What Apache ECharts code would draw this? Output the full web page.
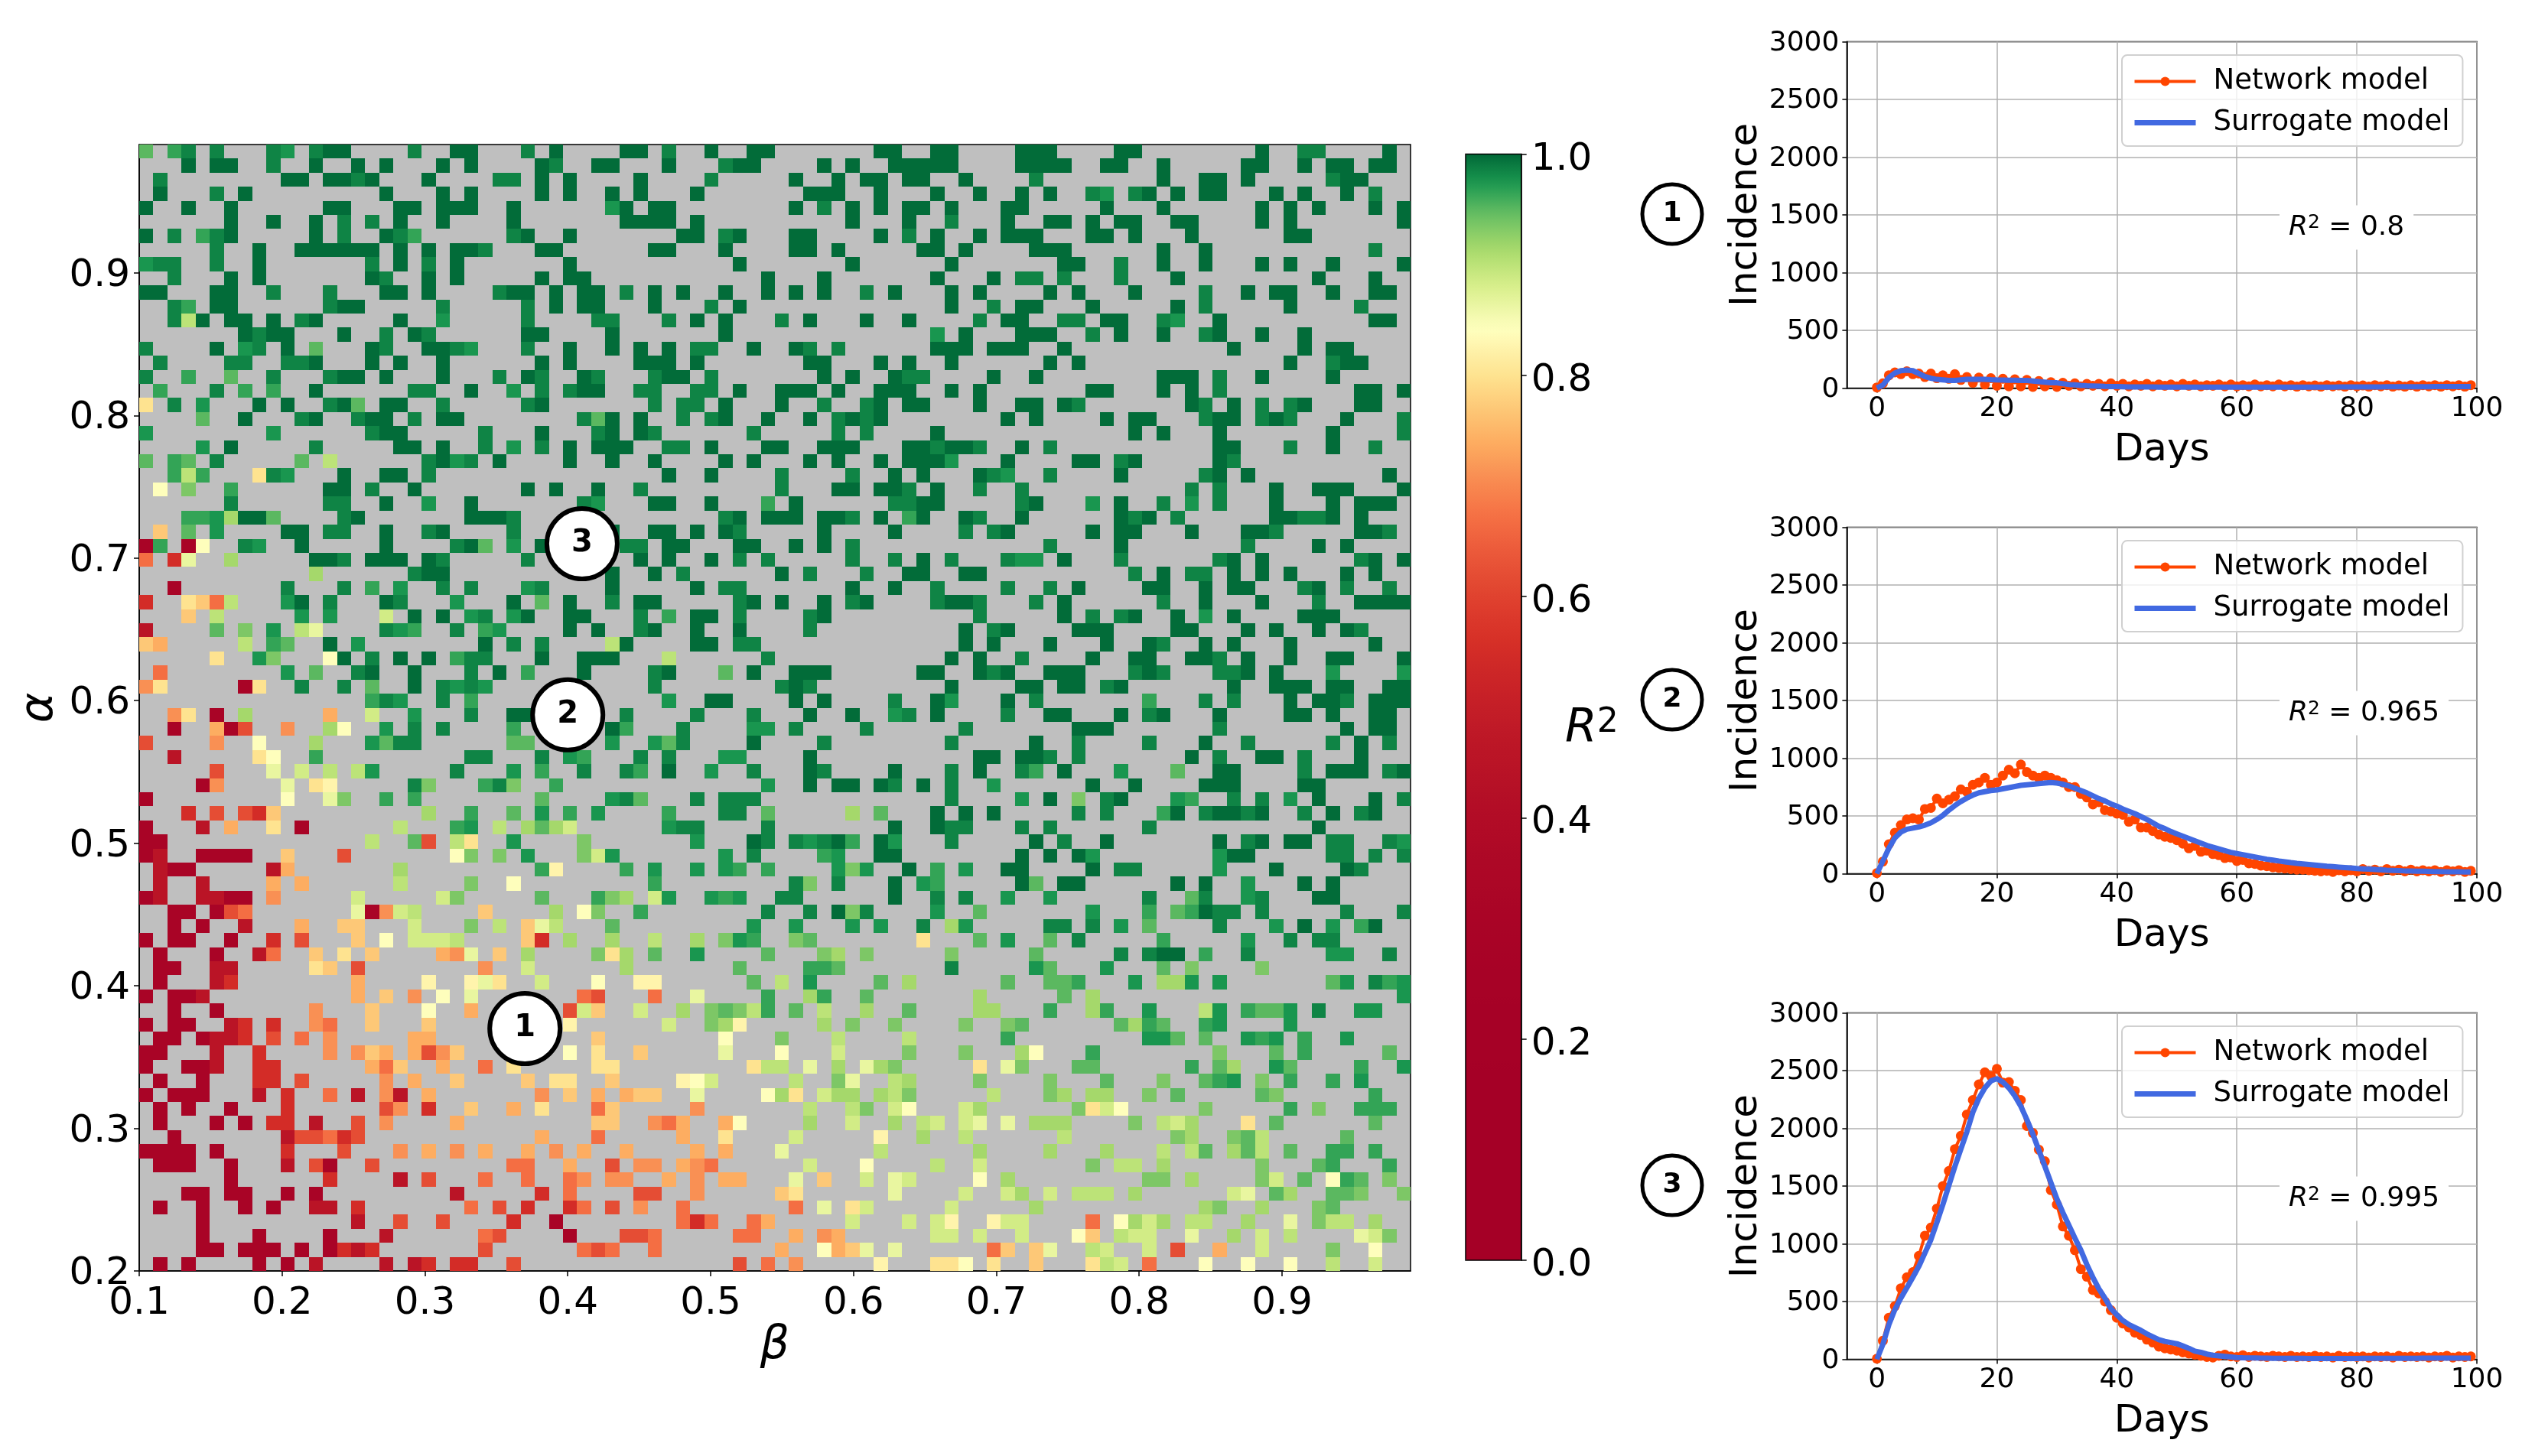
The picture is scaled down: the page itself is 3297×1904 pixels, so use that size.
<!DOCTYPE html>
<html><head><meta charset="utf-8">
<style>html,body{margin:0;padding:0;background:#fff}#c{width:3297px;height:1904px}</style>
<script src="https://cdn.jsdelivr.net/npm/echarts@6/dist/echarts.min.js"></script>
</head><body><div id="c"></div>
<script>
// R2 level letters
const levelValues = {A:.30,B:.45,C:.55,D:.62,E:.67,F:.71,G:.74,H:.77,I:.80,J:.825,K:.84,L:.865,M:.885,N:.90,O:.915,P:.935,Q:.95,R:.965,S:.975,T:.985,U:.998};
// One string per row, top row (alpha high) first; tokens are column or column-range + level
const gridRows = [
"0Q 2R 3T 5T 9T 10S 12T 13-14U 19T 22-23U 27T 29U 34-35U 37T 40U 43-44U 52-53U 56-57U 62-64U 69-70U 79U 82-83T 88U",
"3U 5-6U 9T 12U 15U 17U 21U 23U 28U 29T 32-33U 37U 41T 42-43U 48U 50U 53-57U 62-65U 68-69U 72U 78-79U 82U 84-85U 87-88U",
"1T 10-11U 13-14U 15T 16U 20U 25-26T 28U 30U 35U 40T 46U 49U 51-52U 54-55U 58U 63T 72U 75-76U 78U 84T 85-86U",
"1U 5T 7U 17U 21U 23U 28U 30U 33U 35U 39U 47-49U 52U 56U 59U 62U 64U 67T 68S 70T 71U 73U 75-76U 80U 82U 85U 87T",
"0U 3U 6U 13-14U 18-19U 21-23U 26U 33S 34U 36-37U 46U 48T 50U 52U 54-55U 57U 61-62U 68U 72U 79U 81U 83U 87U 89U",
"6U 9U 12U 14T 16T 18U 21U 26U 34-37U 39U 50U 54U 57T 61U 64-65U 67U 69-70U 73-74U 79U 81U 89U",
"0U 2T 4R 5T 6U 12U 14T 17U 18T 19R 26T 27U 30U 38-39U 41T 42U 46-47U 52U 54T 56U 59U 61-63U 67-68U 70U 74U 81-82U",
"5T 8U 11-16U 18U 20U 22-23U 24T 28-29U 36-37U 41U 46-47U 49U 55-56U 58U 63-65U 72U 75U 87T",
"0S 1-2T 5T 8U 16T 18U 20T 22U 30U 42U 50U 57U 65-66U 69T 72U 75U 79U 81U 84U 89U",
"2T 6U 8U 16U 17T 20U 22U 28U 30-31U 44U 48U 56U 60U 62-63T 65T 69T 73U 83U 87U",
"0-1U 5-6U 9T 13T 17-18U 20U 25T 26-27U 29U 31-32U 34T 36U 38U 41U 44U 46U 48U 51T 53U 57U 59U 64U 66U 70U 75T 78U 80-81U 84U 87-88U",
"2T 3R 5-6U 13T 14-15U 21T 27T 29U 31-32U 36U 40T 42U 57U 60T 62-63U 67U 73U 75T 81U 86T",
"2T 3N 4U 6-7U 9U 11T 12U 18U 21S 27T 32-33T 37T 39U 41U 45T 47U 51U 54U 59T 61-62U 65-66T 68-69U 72T 73S 76U 87-88U",
"7U 8T 9-10U 14U 17T 19U 20T 27-28U 33U 41U 56S 58U 62-64U 67T 69U 72U 75T 76U 79U 82U",
"0T 5U 7S 8T 10U 12Q 16U 17T 20-21U 22T 23S 27T 30U 33U 35U 37U 39-40T 43U 46U 47T 49T 56-58U 60-62U 65U 77U 82U 84-85U",
"1T 6-7T 10T 11T 12U 16U 18U 21U 28U 30U 35-37U 39U 47-48U 52U 54U 57U 64U 66U 81U 84T 85-86U",
"0T 3R 6Q 9T 13T 14-15U 17U 21U 25T 27U 28T 31U 32T 36T 37-38U 40T 48U 50U 53U 54-55T 60U 63U 72-74U 76T 79U 84U",
"1R 5T 7R 9R 12U 19-20T 23U 26S 28T 30T 31-32U 35-36T 39-40T 42U 45-47U 49U 52-54U 57U 59U 67-68U 72U 74U 76T 86-87U 89U",
"0I 2T 4S 8U 10U 13T 14U 15Q 17-18U 21T 27T 28U 36T 38-39T 41U 45U 48T 51T 52U 54-55U 59U 62-63U 65U 66T 74U 75T 77U 79T 81T 82U 86-87U",
"4Q 7U 11T 12U 15T 16-17U 19T 21-22U 31T 32Q 33U 35U 38T 40T 41U 44U 47U 49T 50U 51T 52U 61U 63U 68U 70-71U 75T 76-77U 79T 80U 81T 85U 89T",
"0S 9S 16T 17-18U 24T 28U 32T 33U 35U 36T 43T 49T 51T 56U 70U 72U 76U 84U 89T",
"4S 6U 12T 18-19U 21U 24T 26S 28T 30U 32-34U 37-38T 40U 44-45U 48-50U 54-55U 56T 57-58U 59T 62U 64T 76-77U 81T 84U 87T",
"0Q 2R 3Q 5T 11Q 13N 20T 21U 22S 23T 25U 30U 33U 36U 41U 43U 47U 49U 52U 54-56U 57S 61U 66-67U 69T 70U 76U 77T",
"2R 3N 4R 8I 9T 10S 14U 17-18U 20T 37U 40U 45T 50T 53U 55U 59U 60T 61S 64T 69U 75T 76U 78U 88U",
"1K 3P 6R 13-14U 16T 19U 27U 29U 32U 35T 45T 49-50U 52-53U 54T 56U 59T 62T 74T 76T 80U 83-85U 89U",
"6T 13-14T 17U 20S 23U 31T 32S 36-37U 40U 44R 46U 53-54T 55-56U 62T 63U 67S 69U 72T 74S 76T 80U 84U 86-88U",
"3-4R 5S 6O 7-8U 9Q 14T 15U 23-25U 26T 41T 42U 44-46U 48-49U 50T 52U 54R 55U 58U 59T 62U 69U 70T 71U 73T 80-81U 82-83T 84U 86U",
"1H 3Q 5S 10-11U 13-14T 17U 20T 21U 26T 33U 36-37U 39U 41U 42T 48U 53U 58T 60T 61U 67U 69-70U 74U 78-79U 80T 86-87U 88T",
"0A 1R 3A 4K 7T 8S 11U 17U 22T 23U 24Q 26S 28U 34-35T 37-38U 42-43U 46U 48U 50T 64T 69U 78T 83U 85U",
"0E 2C 3L 6O 12-13U 14T 16-18U 20U 21T 27T 35U 37U 40U 42T 44T 50T 53T 55U 57T 61T 62-63S 65U 69T 76T 77U 79U 86T 87U 89U",
"12O 19T 20-21U 33U 36U 38T 45U 47T 51T 54-55U 58-59U 70T 72U 74-75T 77U 79U 81U 85U 87U",
"2A 10T 14T 16R 18S 21T 23T 27S 28T 33U 39U 41-42T 50U 53U 56T 61T 64T 66U 71-72U 75U 77-78U 82T 83U 85T 88T",
"0C 3I 4H 5E 6N 10S 11U 13T 17U 18T 22S 26U 28Q 30U 33T 35-36U 42T 43U 45U 48U 50T 51U 56T 57-58U 59T 63T 65U 72T 75U 79U 83T 86-89U",
"3H 5N 11S 13S 17M 19U 21U 23S 24T 26S 27U 30-31U 35T 37R 39-40U 42T 47T 48U 59T 65U 67T 69T 70U 73U 75S 77U 82-84U",
"0B 5Q 7P 9S 11N 12L 17T 18S 19R 22T 24R 25S 30U 32U 35T 36U 39U 42U 47T 58U 60T 61U 66-68U 73-74U 78U 80U 83U 85U 86T",
"0H 1G 7N 9R 10Q 13U 15S 24U 26T 28T 33N 34U 39-40U 42-43T 58U 60U 64U 68U 71U 72T 75U 77U 81U 87U",
"5I 8S 9P 13K 14U 16T 18U 20U 22R 23-24T 28U 31-33U 37N 44T 57U 59U 62T 67U 70-71U 74-75U 76T 78U 81U 84-85U 89U",
"1E 10S 12Q 15T 16U 19U 23T 25U 27R 31U 36T 37U 41Q 43U 46-48U 55-56U 59U 60T 61U 64-66U 70T 71U 72T 76-77T 78U 80U 84S 89S",
"0F 1I 7A 8I 11T 14T 16Q 19U 21T 22S 23T 24S 36T 45T 46U 47T 57U 62-63U 65-66U 68T 69U 77U 80-82U 84-85U 88-89U",
"16R 17T 18S 21T 23R 37S 40-41U 46U 48U 53T 56U 57S 61U 63T 71R 75T 77T 81U 83-84U 85T 87-89U",
"2F 3I 5A 7O 13G 16M 19S 23T 26-27U 34T 39T 43T 47U 50U 53S 54T 56U 61T 64-65U 69U 71T 72U 76U 81-82U 84U 87-88U",
"2A 5G 6A 7D 10F 13O 14K 17S 19T 21T 26R 33U 34R 38T 43-44S 46T 51T 58T 66-68U 76T 85U 87-88U",
"0D 5F 8K 12O 16S 17Q 18-19T 26-27Q 33S 36S 37Q 38T 43U 48T 57T 63U 66T 71T 75U 78T 84T 86U 88T",
"2B 8I 9K 12R 23-24T 28T 30S 31R 35T 37T 41-42S 47U 59-60U 62-63U 64T 66T 74U 76T 79-80U 82T 86U",
"5D 9L 11M 13N 15N 16S 22T 26S 28R 31T 34T 35R 37U 40S 43T 47U 48T 53U 57T 59U 62T 63R 65U 69S 73Q 76-77U 82T 84-86U 88T 89U",
"4A 5F 10L 12I 13J 19T 20P 24R 25T 26P 29R 44S 47U 49-50U 52U 53T 55U 57T 60S 67U 70U 75-77U 82-83U",
"0A 10K 13L 14P 17R 19R 28Q 33S 34T 35Q 39T 41-43T 57T 62S 64U 66P 68T 69U 73S 74R 77T 79T 81S 83U 87U 89T",
"3C 5D 7D 8C 9H 20O 23R 26Q 28S 30R 32S 37R 41-42T 44Q 50O 52Q 56U 58U 60U 66T 68T 72R 73U 75T 76-77U 78T 79U 82T 84U 86T 87U",
"0A 4B 6G 9I 11A 18N 22R 23S 25N 27O 28Q 29O 30M 37S 38-39T 44T 53U 56U 57-58T 62T 64T 71T 83U",
"0-1A 16N 19Q 20D 22N 23I 26S 31P 39S 43U 44T 46T 47S 48T 49U 50R 52U 53S 57T 63U 65T 68U 76U 78T 79U 81-82U 84-85T 88T 89S",
"0A 1B 4-7A 10H 14D 22K 23P 25P 27S 31P 32M 33S 41S 43T 48R 49S 52-53U 62U 64U 66U 67S 76S 77-78U 84-85T 87T 89T",
"1B 2-3A 9B 10G 18O 28R 29J 34R 36S 39S 41S 42R 44R 49S 50P 51S 54U 56R 58S 61-62U 67U 69-70T 76S 80U 85U 86T",
"1B 4B 9G 11G 18N 23P 26K 36R 46T 47P 49T 53U 55S 56R 62U 63Q 65-66U 73U 75U 78S 82U 84U",
"0A 1B 4-5B 6-7A 9F 15M 21M 22P 28Q 32R 33P 34O 36M 37S 40S 41R 42S 45-46T 53U 56T 58T 61S 64S 71T 74Q 75T 78S 79T 83-84U",
"2-3A 5A 6D 7E 15L 16A 17F 18M 19N 24H 29O 31K 32P 35R 44T 47T 49U 50P 51T 56S 59Q 67S 71R 73Q 74R 75U 76-77T 79T 85T 89T",
"2A 4A 7B 11G 14-15H 19M 23P 25N 27H 28L 29N 33Q 43S 46S 50S 52S 55T 57O 58S 64-65T 67T 69S 71Q 76T 80S 82U 84S 86R 87U",
"0A 2-3A 6A 9C 11D 15H 17K 19M 20-21M 22N 27H 28C 30O 33O 36N 39O 41P 42S 43R 46P 47Q 55I 59Q 61S 64Q 66T 72R 78S 81T 83-84T",
"1A 5A 8B 9E 12H 14I 16H 21G 22F 23L 25H 27O 32P 33I 34O 36Q 39S 44Q 48P 49O 51P 57P 63Q 69T 71T 72-73U 75R 78T 84-85S 88T",
"1-2A 5-6B 12I 13H 15D 24F 27M 34O 42Q 47-48R 49Q 57T 63S 64Q 68S 72Q 74P 79P",
"1A 5B 6C 15G 20J 23J 24L 25I 28M 32K 35-36J 43Q 45N 47S 52Q 54O 61Q 64-65Q 66R 70S 72-73O 74S 76S 84Q 85S 87T 88R 89S",
"0A 2-3A 4B 15G 17H 19F 21K 23L 31E 32D 36E 39L 44R 47O 48R 51Q 59O 65Q 67O 89S",
"2A 5A 12F 16H 20K 23G 30D 31M 32H 35M 38O 40P 41Q 42P 43N 44R 46Q 48N 51O 54Q 59-60O 64R 67O 68R 71S 75N 76S 78R 79-80Q 81S 83T 86-87S",
"0A 2-3A 6B 7C 9C 12F 13E 16H 20H 30J 37M 40P 41O 42J 48O 50P 53P 58P 61P 62Q 69Q 70O 71R 72Q 75R 76S 81S",
"1-2A 4A 5-6B 7C 9D 11E 13F 19-20G 32H 41K 45P 49N 54N 61R 71-72S 73Q 75Q 78S 79R 80S 82R 85S",
"0-1A 5B 8C 13F 15F 16H 17G 19G 20D 21F 22H 30K 32I 35H 41L 45K 49M 54P 58P 62O 63K 67R 76P 80Q 82R 88Q",
"0A 3-4A 5B 8-9C 16G 17E 18H 21G 24E 26I 32-33I 43I 44-45N 47L 49O 51L 52O 53P 59I 61L 62P 66-67Q 74R 76Q 77O 80S 81Q 86R 89S",
"1A 4A 8-9C 11D 17F 19G 22H 27H 29-30I 33H 38J 39K 40M 46N 49P 50L 53N 54O 59P 64P 68Q 72P 75Q 76R 77S 79P 81R 84R 86S",
"0A 2-4A 8B 10C 13E 15B 17F 18B 20G 28F 30H 32G 34G 35-36H 39L 44K 45O 46I 48M 49-50O 52O 53N 54P 60N 64P 65O 67-68O 71P 73Q 79Q 80P 87R",
"1A 3A 6A 10C 17D 18F 20C 23H 26G 28I 32E 33H 39F 47N 50N 51P 53M 54K 58M 59O 66P 67I 68M 69K 75P 81R 83P 86-88R",
"1A 5A 7A 9-10C 12B 15D 17F 22G 32-33H 36F 37E 38G 41G 42K 47O 50M 53O 55N 56M 58M 59L 61L 63-65O 70P 72N 73M 74O 78I 80Q 87Q",
"2A 10B 11-12D 13E 14C 15D 28G 32E 38G 41I 46M 52J 55O 58N 65N 73P 74O 77P 78Q 79N 85Q",
"0-3A 5A 10C 14D 18F 20G 22F 24G 27G 29F 31G 34G 39G 41G 45L 52N 59O 64O 68O 72N 74N 75Q 77O 78Q 79N 81Q 84-85R 87R",
"1-3A 6A 10B 12D 13A 16D 26-27E 30G 33D 35-36F 38G 39F 40E 47M 51K 56N 59M 67P 69-70N 72O 79P 83Q 84R 88R",
"6A 13C 18B 20D 24E 27E 30E 31F 33-34F 37G 39F 41-42G 46L 48H 51M 53L 54M 59K 61O 71-72P 74O 79P 80M 82Q 84K 85R 86Q 88P",
"3-4A 6-7A 10A 12A 22B 28C 30E 35-36D 39F 45H 46I 53L 58M 61M 62O 64M 66-68N 70O 77M 78L 80Q 81O 84-85Q 86P 89P",
"1A 4A 7A 9A 12-13B 15C 23E 25D 27C 30C 31E 33D 35F 38E 46E 48L 50I 51M 57M 63O 75O 76P 79O 83P 84Q",
"4A 15B 18D 21D 26C 29A 38E 39C 40E 43E 44G 50M 54M 56M 57J 60J 61-62M 67E 69K 70O 71M 72O 74-75N 78O 81L 83P 84-85N 87O",
"4A 8A 13A 17B 24E 25D 30A 34-35D 36E 42-43E 46G 48F 49G 56-57M 59M 62M 66K 67H 69N 70-71M 74L 77O 79M 81N 86L 87M 88P",
"4-5A 7-9A 11A 13A 14C 15B 16C 24D 31E 32D 33E 36E 45G 48K 49G 50H 51L 53L 60E 61H 63H 64L 67N 68M 71M 73D 76G 79M 84P 87K",
"1A 3A 8A 10A 12B 17B 19B 20C 22-23C 26D 42D 44E 46F 52J 56-57I 58K 60I 63H 67I 68N 69M 71E 75K 78K 81K 84N 87M"
];
const betaTicks = [0.1,0.2,0.3,0.4,0.5,0.6,0.7,0.8,0.9];
const alphaTicks = [0.2,0.3,0.4,0.5,0.6,0.7,0.8,0.9];
const dayTicks = [0,20,40,60,80,100];
const spots = [[0.37,0.37,"1"],[0.40,0.59,"2"],[0.41,0.71,"3"]];
const r2Labels = ["0.8","0.965","0.995"];
const network1 = [5,40,110,135,120,145,120,125,95,125,
85,110,80,120,70,95,45,90,30,85,
20,80,15,75,15,70,10,60,15,50,
10,45,20,40,15,35,20,35,15,40,
20,35,15,30,20,35,15,30,20,30,
15,35,20,30,15,25,20,30,15,30,
15,25,15,30,15,25,15,30,15,25,
12,25,15,22,12,25,15,22,12,25,
15,22,12,25,15,25,12,22,12,25,
12,25,15,25,12,25,15,25,12,25];
const surrogate1 = [0,25,90,130,150,155,150,125,100,85,
75,70,65,65,70,75,75,75,75,72,
70,69,68,67,66,65,60,55,50,45,
45,38,30,27,23,20,18,16,14,13,
12,11,10,10,9,9,9,8,8,8,
8,8,8,8,7,7,7,7,7,7,
7,7,7,7,7,7,7,7,7,7,
7,7,7,8,8,8,8,9,9,9,
10,10,10,10,10,11,11,11,11,11,
11,11,11,12,12,12,12,12,12,12];
const network2 = [5,105,255,355,420,470,480,470,560,570,
650,610,640,670,730,710,770,790,830,770,
790,850,900,870,945,880,850,830,850,830,
810,790,750,750,690,660,600,620,550,540,
520,510,450,470,400,400,370,340,320,310,
290,260,220,240,190,200,170,160,135,140,
110,120,90,85,70,65,55,50,45,40,
35,35,30,25,20,25,15,30,20,30,
20,40,25,35,20,40,25,35,20,35,
20,30,20,30,15,30,20,30,15,25];
const surrogate2 = [0,110,220,310,360,385,395,405,420,440,
470,505,550,590,625,655,680,700,710,720,
725,735,745,755,765,770,775,780,785,790,
785,775,760,740,720,700,675,650,630,605,
585,560,540,520,495,470,440,410,390,365,
345,325,305,285,265,245,230,215,200,185,
175,165,155,145,135,125,118,110,103,96,
90,85,80,75,70,65,61,57,53,49,
45,42,39,36,33,30,28,26,24,23,
22,21,20,19,18,17,16,16,15,15];
const network3 = [5,160,360,460,615,710,755,895,1070,1140,
1305,1500,1630,1820,1935,2120,2245,2380,2485,2455,
2515,2395,2400,2325,2245,2020,1960,1815,1715,1465,
1340,1150,1070,945,780,715,600,570,500,425,
360,310,275,230,210,170,145,110,95,85,
75,60,50,40,30,20,15,30,40,25,
20,35,20,30,25,20,30,25,20,30,
20,25,20,30,20,25,15,30,20,25,
20,25,15,25,20,25,15,30,20,25,
20,25,15,25,20,30,15,25,20,25];
const surrogate3 = [0,130,300,430,530,620,710,805,920,1035,
1185,1340,1505,1670,1820,1970,2140,2260,2350,2410,
2430,2400,2350,2280,2190,2075,1950,1810,1670,1530,
1390,1270,1160,1050,945,820,710,610,530,440,
385,335,300,275,250,220,195,170,155,145,
135,115,95,70,60,45,35,30,25,20,
15,13,12,11,10,10,9,9,8,8,
8,8,7,7,7,7,7,7,7,7,
7,8,8,8,8,8,9,9,9,9,
9,10,10,10,10,10,10,10,10,10];

const FONT = 'DejaVu Sans';
const BETA_MIN=0.1, BETA_MAX=0.99, ALPHA_MIN=0.2, ALPHA_MAX=0.99, NCOL=90, NROW=80;
const cellW=(BETA_MAX-BETA_MIN)/NCOL, cellH=(ALPHA_MAX-ALPHA_MIN)/NROW;
const cellData=[];
gridRows.forEach((row,r)=>{
  const re=/(\d+)(?:-(\d+))?([A-U])/g; let m;
  while((m=re.exec(row))){
    const a=+m[1], b=m[2]?+m[2]:a;
    for(let c=a;c<=b;c++) cellData.push([BETA_MIN+c*cellW, ALPHA_MIN+(NROW-1-r)*cellH, levelValues[m[3]]]);
  }
});
// RdYlGn under a power norm (gamma 4)
const rdylgn=[[165,0,38],[215,48,39],[244,109,67],[253,174,97],[254,224,139],[255,255,191],[217,239,139],[166,217,106],[102,189,99],[26,152,80],[0,104,55]];
const rampColors=[];
for(let i=0;i<=120;i++){
  const t=Math.pow(i/120,4)*10, k=Math.min(9,Math.floor(t)), f=t-k;
  rampColors.push('rgb('+rdylgn[k].map((v,j)=>Math.round(v+(rdylgn[k+1][j]-v)*f)).join(',')+')');
}
function renderCell(p,api){
  const a=api.coord([api.value(0),api.value(1)]), b=api.coord([api.value(0)+cellW,api.value(1)+cellH]);
  const x0=Math.round(a[0]),x1=Math.round(b[0]),y0=Math.round(a[1]),y1=Math.round(b[1]);
  return {type:'rect',shape:{x:x0,y:y1,width:x1-x0,height:y0-y1},style:{fill:api.visual('color')}};
}
const days=Array.from({length:100},(_,i)=>i);
const pair=a=>a.map((v,i)=>[days[i],v]);
const panelTops=[54.4,689.5,1324.5];
const curves=[[network1,surrogate1],[network2,surrogate2],[network3,surrogate3]];
const shifted=(fmt,size,pad)=>({formatter:v=>'{a|'+fmt(v)+'}',rich:{a:{fontFamily:FONT,fontSize:size,color:'#000',padding:[pad,0,0,0]}}});

const grids=[{left:182,top:189,width:1662,height:1473,show:true,backgroundColor:'#bfbfbf',borderColor:'#000',borderWidth:1.5}];
const xAxes=[{gridIndex:0,type:'value',min:BETA_MIN,max:BETA_MAX,name:'β',nameLocation:'middle',nameGap:68,nameMoveOverlap:false,
  nameTextStyle:{fontFamily:FONT,fontStyle:'italic',fontSize:60,color:'#000'},
  splitLine:{show:false},axisLine:{onZero:false,lineStyle:{color:'#000',width:1.5}},
  axisTick:{customValues:betaTicks,length:7,lineStyle:{color:'#000',width:1.5}},
  axisLabel:{customValues:betaTicks,formatter:v=>v.toFixed(1),fontFamily:FONT,fontSize:50,color:'#000',margin:18,showMinLabel:true,showMaxLabel:true}}];
const yAxes=[{gridIndex:0,type:'value',min:ALPHA_MIN,max:ALPHA_MAX,name:'α',nameLocation:'middle',nameGap:100,nameMoveOverlap:false,
  nameTextStyle:{fontFamily:FONT,fontStyle:'italic',fontSize:60,color:'#000'},
  splitLine:{show:false},axisLine:{onZero:false,lineStyle:{color:'#000',width:1.5}},
  axisTick:{customValues:alphaTicks,length:7,lineStyle:{color:'#000',width:1.5}},
  axisLabel:Object.assign({customValues:alphaTicks,margin:12,showMinLabel:true,showMaxLabel:true},shifted(v=>v.toFixed(1),50,8))}];
const series=[
 {type:'custom',xAxisIndex:0,yAxisIndex:0,data:cellData,renderItem:renderCell,progressive:0,silent:true,clip:true,z:1,
  encode:{x:0,y:1},animation:false},
 {type:'scatter',xAxisIndex:0,yAxisIndex:0,data:spots,symbol:'circle',symbolSize:92,silent:true,z:5,
  itemStyle:{color:'#fff',borderColor:'#000',borderWidth:6,opacity:1},
  label:{show:true,position:'inside',formatter:p=>p.value[2],fontFamily:FONT,fontWeight:'bold',fontSize:40,color:'#000'}}
];
const legends=[], graphics=[];
panelTops.forEach((top,i)=>{
  const gi=i+1;
  grids.push({left:2414.4,top:top,width:823.6,height:453,show:true,backgroundColor:'#fff',borderColor:'#000',borderWidth:1.5});
  xAxes.push({gridIndex:gi,type:'value',min:-5,max:100,name:'Days',nameLocation:'middle',nameGap:57,nameMoveOverlap:false,
    nameTextStyle:{fontFamily:FONT,fontSize:50,color:'#000'},
    splitLine:{show:true,lineStyle:{color:'#b0b0b0',width:1.5}},axisLine:{onZero:false,lineStyle:{color:'#000',width:1.5}},
    axisTick:{customValues:dayTicks,length:6,lineStyle:{color:'#000',width:1.5}},
    axisLabel:{customValues:dayTicks,fontFamily:FONT,fontSize:36,color:'#000',margin:9}});
  yAxes.push({gridIndex:gi,type:'value',min:0,max:3000,interval:500,name:'Incidence',nameLocation:'middle',nameGap:106,nameMoveOverlap:false,
    nameTextStyle:{fontFamily:FONT,fontSize:50,color:'#000'},
    splitLine:{show:true,lineStyle:{color:'#b0b0b0',width:1.5}},axisLine:{show:true,onZero:false,lineStyle:{color:'#000',width:1.5}},
    axisTick:{show:true,length:6,lineStyle:{color:'#000',width:1.5}},
    axisLabel:Object.assign({margin:10},shifted(v=>String(v),36,4))});
  series.push({name:'Network model',type:'line',xAxisIndex:gi,yAxisIndex:gi,data:pair(curves[i][0]),symbol:'circle',symbolSize:13,showSymbol:true,showAllSymbol:true,
    itemStyle:{color:'#ff4500'},lineStyle:{color:'#ff4500',width:4},silent:true,z:2});
  series.push({name:'Surrogate model',type:'line',xAxisIndex:gi,yAxisIndex:gi,data:pair(curves[i][1]),symbol:'none',
    itemStyle:{color:'#4169e1'},lineStyle:{color:'#4169e1',width:7},silent:true,z:3});
  legends.push({left:2774,top:top+17.6,orient:'vertical',
    data:[{name:'Network model',lineStyle:{width:4}},{name:'Surrogate model',lineStyle:{width:7},itemStyle:{opacity:0}}],
    backgroundColor:'rgba(255,255,255,0.8)',borderColor:'#d0d0d0',borderWidth:2,borderRadius:7,padding:[16,17,12,13],
    itemWidth:80,itemHeight:15,itemGap:17,selectedMode:false,textStyle:{fontFamily:FONT,fontSize:37,color:'#000',padding:[0,0,0,18]}});
  graphics.push({type:'text',left:2980,top:top+214,z:20,style:{
    text:'{i|R}{s|2} = '+r2Labels[i],rich:{i:{fontFamily:FONT,fontStyle:'italic',fontSize:36,fill:'#000'},s:{fontFamily:FONT,fontSize:25,fill:'#000',verticalAlign:'top',lineHeight:30}},
    fontFamily:FONT,fontSize:36,fill:'#000',backgroundColor:'#fff',padding:[11,12,11,12]}});
  const cy=top+225.6;
  graphics.push({type:'circle',z:20,shape:{cx:2186,cy:cy,r:39},style:{fill:'#fff',stroke:'#000',lineWidth:5}});
  graphics.push({type:'text',z:21,x:2186,y:cy,style:{text:String(i+1),fontFamily:FONT,fontWeight:'bold',fontSize:36,fill:'#000',align:'center',verticalAlign:'middle'}});
});
// colour bar axis
grids.push({left:1916,top:201.6,width:72.7,height:1446.4,show:true,backgroundColor:'transparent',borderColor:'#000',borderWidth:1.5,z:10});
xAxes.push({gridIndex:4,type:'value',show:false,min:0,max:1});
yAxes.push({gridIndex:4,type:'value',min:0,max:1,interval:0.2,position:'right',z:10,
  splitLine:{show:false},axisLine:{show:true,onZero:false,lineStyle:{color:'#000',width:1.5}},
  axisTick:{show:true,length:7,lineStyle:{color:'#000',width:1.5}},
  axisLabel:Object.assign({margin:13,showMinLabel:true,showMaxLabel:true},shifted(v=>v.toFixed(1),50,14))});
series.push({type:'line',xAxisIndex:4,yAxisIndex:4,data:[],silent:true});
graphics.push({type:'text',z:20,left:2046,top:924,style:{text:'{i|R}{s|2}',rich:{i:{fontFamily:FONT,fontStyle:'italic',fontSize:60,fill:'#000'},s:{fontFamily:FONT,fontSize:44,fill:'#000',verticalAlign:'top',lineHeight:50}},fontFamily:FONT,fontSize:60,fill:'#000'}});

const chart=echarts.init(document.getElementById('c'),null,{renderer:'canvas'});
chart.setOption({
  animation:false,backgroundColor:'#fff',
  grid:grids,xAxis:xAxes,yAxis:yAxes,series:series,legend:legends,graphic:graphics,
  visualMap:[{type:'continuous',seriesIndex:0,dimension:2,min:0,max:1,left:1916,top:201.6,itemWidth:72.7,itemHeight:1446.4,padding:0,
    calculable:false,realtime:false,text:null,showLabel:false,hoverLink:false,inRange:{color:rampColors},textStyle:{fontSize:0}}]
});
</script></body></html>
